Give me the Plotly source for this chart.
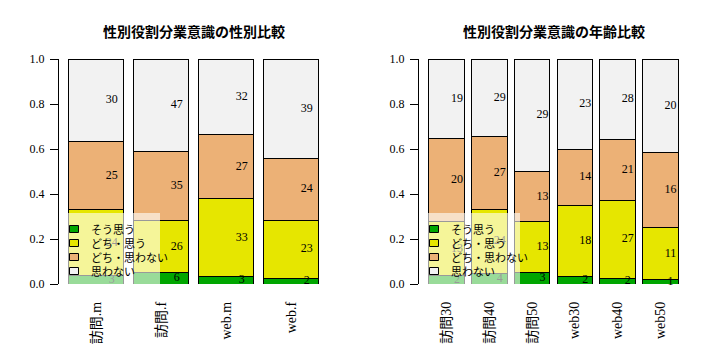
import plotly.graph_objects as go

# ---- data ----
series_names = ["そう思う", "どち・思う", "どち・思わない", "思わない"]
series_colors = ["#00A600", "#E6E600", "#ECB176", "#F2F2F2"]

sex_groups = ["訪問.m", "訪問.f", "web.m", "web.f"]
sex_sou = [3, 6, 3, 2]
sex_dochi_sou = [24, 26, 33, 23]
sex_dochi_nai = [25, 35, 27, 24]
sex_nai = [30, 47, 32, 39]

age_groups = ["訪問30", "訪問40", "訪問50", "web30", "web40", "web50"]
age_sou = [2, 4, 3, 2, 2, 1]
age_dochi_sou = [13, 24, 13, 18, 27, 11]
age_dochi_nai = [20, 27, 13, 14, 21, 16]
age_nai = [19, 29, 29, 23, 28, 20]

titles = ["性別役割分業意識の性別比較", "性別役割分業意識の年齢比較"]
y_ticks = [0.0, 0.2, 0.4, 0.6, 0.8, 1.0]

# ---- layout helpers ----
W, H = 720, 360
def px(x):
    return x / W
def py(y):
    return 1 - y / H

SERIF = "Liberation Serif, Noto Sans CJK JP, serif"
CJK = "Noto Sans CJK JP, sans-serif"

fig = go.Figure()

panels = [
    (sex_groups, [sex_sou, sex_dochi_sou, sex_dochi_nai, sex_nai], "x", "y", 59),
    (age_groups, [age_sou, age_dochi_sou, age_dochi_nai, age_nai], "x2", "y2", 419),
]

for pi, (groups, series, xa, ya, left_px) in enumerate(panels):
    n = len(groups)
    centers = [0.7 + 1.2 * i for i in range(n)]
    totals = [sum(s[i] for s in series) for i in range(n)]
    cum = [0.0] * n
    lab_x, lab_y, lab_t = [], [], []
    for si, s in enumerate(series):
        props = [s[i] / totals[i] for i in range(n)]
        fig.add_trace(go.Bar(
            x=centers, y=props, width=[1.0] * n,
            marker=dict(color=series_colors[si], line=dict(color="black", width=1)),
            xaxis=xa, yaxis=ya, showlegend=False, name=series_names[si],
            hoverinfo="skip",
        ))
        for i in range(n):
            lab_x.append(centers[i] + 0.29)
            lab_y.append(cum[i] + props[i] / 2)
            lab_t.append(str(s[i]))
            cum[i] += props[i]
    fig.add_trace(go.Scatter(
        x=lab_x, y=lab_y, text=lab_t, mode="text",
        textfont=dict(family=SERIF, size=12, color="black"),
        textposition="middle center", cliponaxis=False,
        xaxis=xa, yaxis=ya, showlegend=False, hoverinfo="skip",
    ))

    # legend (drawn manually, R style)
    fig.add_shape(type="rect", xref="paper", yref="paper",
                  x0=px(left_px), x1=px(left_px + 101), y0=py(284.5), y1=py(213),
                  fillcolor="rgba(255,255,255,0.6)", line=dict(width=0), layer="above")
    for si, name in enumerate(series_names):
        cy = 229 + 14 * si
        fig.add_shape(type="rect", xref="paper", yref="paper",
                      x0=px(left_px + 10.5), x1=px(left_px + 19.5),
                      y0=py(cy + 3.5), y1=py(cy - 3.5),
                      fillcolor=series_colors[si], line=dict(color="black", width=1),
                      layer="above")
        fig.add_annotation(x=px(left_px + 30), y=py(cy), xref="paper", yref="paper",
                           text=name, showarrow=False, xanchor="left", yanchor="middle",
                           font=dict(family=CJK, size=11, color="black"))

    # title
    fig.add_annotation(x=px(left_px + 134.5), y=py(31), xref="paper", yref="paper",
                       text=titles[pi], showarrow=False, xanchor="center", yanchor="middle",
                       font=dict(family=CJK, size=14, color="black", weight="bold"))

    xrange = [0.2 - 0.04 * (1.2 * n - 0.2), 0.2 + (1.2 * n - 0.2) * 1.04]
    xdom = [px(left_px), px(left_px + 269)]
    axis_x = dict(domain=xdom, range=xrange, tickvals=centers, ticktext=groups,
                  tickangle=-90, showgrid=False, zeroline=False, showline=False,
                  ticks="", ticklabelstandoff=14, automargin=False,
                  tickfont=dict(family=SERIF, size=14, color="black"),
                  anchor=ya)
    axis_y = dict(domain=[py(284), py(59)], range=[0, 1], tickvals=y_ticks,
                  ticktext=[f"{v:.1f}" for v in y_ticks], automargin=False,
                  showgrid=False, zeroline=False, showline=True, linecolor="black",
                  linewidth=1, ticks="outside", ticklen=8, tickcolor="black",
                  tickwidth=1, ticklabelstandoff=3,
                  tickfont=dict(family=SERIF, size=12, color="black"),
                  anchor=xa)
    if pi == 0:
        fig.update_layout(xaxis=axis_x, yaxis=axis_y)
    else:
        fig.update_layout(xaxis2=axis_x, yaxis2=axis_y)

fig.update_layout(
    width=W, height=H, barmode="stack",
    margin=dict(l=0, r=0, t=0, b=0),
    paper_bgcolor="white", plot_bgcolor="white",
    showlegend=False,
)

fig.write_html("out.html", config={"displayModeBar": False},
               post_script="document.body.style.margin='0';")
